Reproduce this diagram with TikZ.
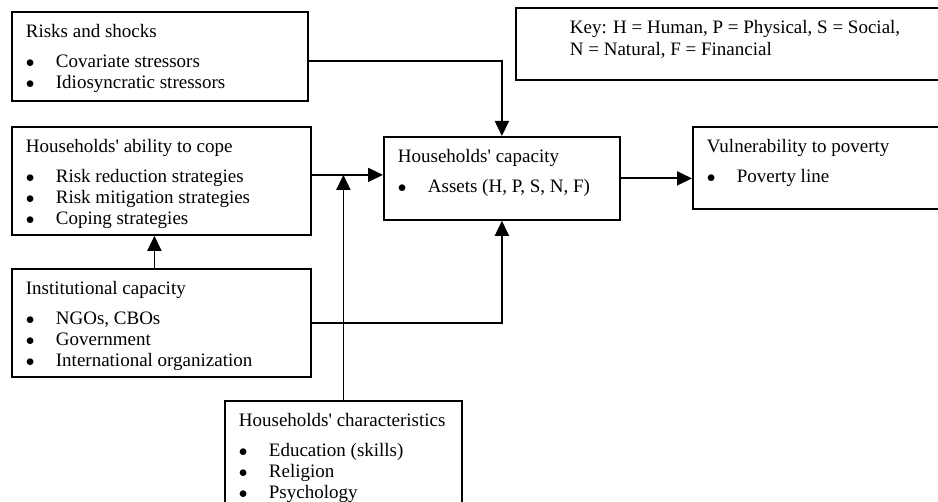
\documentclass[tikz,border=0pt]{standalone}
\usepackage{fontspec}
\setmainfont{Liberation Serif}
\usetikzlibrary{arrows.meta}
\usetikzlibrary{calc}

\newcommand{\boxfont}{\fontsize{19pt}{21.3pt}\selectfont}
\newcommand{\btitle}[1]{\rule{0pt}{26pt}#1\par\vspace{8pt}}
\newcommand{\bitem}[1]{\par\makebox[30pt][l]{$\bullet$}#1}
\newcommand{\q}{\textquotesingle}

\tikzset{
  boxnode/.style={draw, line width=1.8pt, anchor=north west, inner xsep=14pt, inner ysep=0pt, font=\boxfont},
  flow/.style={line width=1.8pt, -{Triangle[length=15pt,width=14pt]}}
}

\begin{document}
\begin{tikzpicture}[x=1pt, y=-1pt]
\clip (0,0) rectangle (938,502);

% boxes
\node[boxnode] (risks) at (11,11) {\parbox[c][89pt][t]{268pt}{\btitle{Risks and shocks}\bitem{Covariate stressors}\bitem{Idiosyncratic stressors}}};
\node[boxnode] (ability) at (11,126) {\parbox[c][108pt][t]{271pt}{\btitle{Households\q{} ability to cope}\bitem{Risk reduction strategies}\bitem{Risk mitigation strategies}\bitem{Coping strategies}}};
\node[boxnode] (inst) at (11,268) {\parbox[c][108pt][t]{271pt}{\btitle{Institutional capacity}\bitem{NGOs, CBOs}\bitem{Government}\bitem{International organization}}};
\node[boxnode] (chars) at (224,400) {\parbox[c][130pt][t]{209pt}{\btitle{Households\q{} characteristics}\bitem{Education (skills)}\bitem{Religion}\bitem{Psychology}}};
\node[boxnode] (cap) at (383,136) {\parbox[c][83pt][t]{208pt}{\btitle{Households\q{} capacity}\bitem{Assets (H, P, S, N, F)}}};
\node[boxnode] (vuln) at (692,126) {\parbox[c][82pt][t]{240pt}{\btitle{Vulnerability to poverty}\bitem{Poverty line}}};
\node[boxnode] (key) at (515,7) {\parbox[c][72pt][t]{417pt}{\rule{0pt}{26pt}\hspace*{40pt}Key: H = Human, P = Physical, S = Social,\par\hspace*{40pt}N = Natural, F = Financial}};

% connectors
\coordinate (rs) at ([yshift=-5pt]risks.east);
\coordinate (ab) at ([yshift=6pt]ability.east);
\coordinate (in) at ([xshift=-7pt]inst.north);
\draw[flow] (rs) -| (cap.north);
\draw[flow] (ab) -- (ab -| cap.west);
\draw[flow] (chars.north) -- (chars.north |- ab);
\draw[flow] (in) -- (in |- ability.south);
\draw[flow] (inst.east) -| (cap.south);
\draw[flow] (cap.east) -- (cap.east -| vuln.west);
\end{tikzpicture}
\end{document}
